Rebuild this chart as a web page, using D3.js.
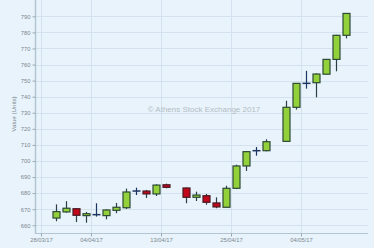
<!DOCTYPE html>
<html>
<head>
<meta charset="utf-8">
<script src="https://cdn.jsdelivr.net/npm/d3@7"></script>
<style>
  body { margin: 0; background: #e8f3fb; }
  svg { display: block; font-family: 'Liberation Sans', Arial, sans-serif; }
</style>
</head>
<body>
<script>
// daily candles (dd/mm/yy)
const dates = ['29/03/17', '30/03/17', '31/03/17', '03/04/17', '04/04/17', '05/04/17', '06/04/17',
  '07/04/17', '10/04/17', '11/04/17', '12/04/17', '13/04/17', '18/04/17', '19/04/17', '20/04/17',
  '21/04/17', '24/04/17', '25/04/17', '26/04/17', '27/04/17', '28/04/17', '02/05/17', '03/05/17',
  '04/05/17', '05/05/17', '08/05/17', '09/05/17', '10/05/17'];
const open = [664.5, 668.3, 670.3, 666, 666.6, 666, 669.3, 670.9, 681.3, 681.3, 679.5, 685.2, 683.2, 677.4,
  678.4, 673.9, 671.2, 683, 696.9, 706.4, 706.4, 712.2, 733.4, 748.3, 748.7, 754, 763.2, 778.2];
const high = [673, 675, 670.6, 668.3, 673.7, 670, 673.9, 682.8, 683.4, 682, 685.5, 685.9, 683.5, 680.9,
  679.5, 677.4, 684.6, 697.7, 706, 708.7, 713.5, 737.5, 748.5, 756.1, 754.5, 763.5, 778.5, 792];
const low = [662.5, 667.8, 662, 661.6, 665.4, 663.7, 667.5, 670.1, 678.8, 677, 678.2, 683, 673.7, 675.1,
  672.8, 670.6, 671, 682.5, 693.8, 703.3, 706, 712, 732, 745, 739.6, 753.8, 755.8, 776.3];
const close = [668.5, 670.6, 666.2, 667.2, 666.6, 669.5, 671.2, 680.7, 681.3, 679.5, 685, 683.6, 677.4, 678.8,
  674.3, 671.4, 683, 696.9, 705.8, 706.4, 712, 733.4, 748.3, 748.3, 754.1, 763.2, 778.2, 791.8];

const xTicks = ['28/03/17', '04/04/17', '13/04/17', '25/04/17', '04/05/17'];
const yTicks = [660, 670, 680, 690, 700, 710, 720, 730, 740, 750, 760, 770, 780, 790];

// trading calendar used by the axis: weekdays, Good Friday left out
const closedDays = ['14/04/17'];

const width = 374;
const height = 248;
const plotTop = 0;
const parse = d3.timeParse('%d/%m/%y');
const fmt = d3.timeFormat('%d/%m/%y');

let slots = d3.timeDay.range(parse('28/03/17'), parse('13/05/17'))
  .filter((d) => d.getDay() > 0 && d.getDay() < 6 && !closedDays.includes(fmt(d)))
  .map(fmt);
const slot = (s) => slots.indexOf(s);

let data = dates.map((d, i) => ({ date: d, o: open[i], h: high[i], l: low[i], c: close[i] }));

let x = d3.scaleLinear().domain([-0.6, 32.7]).range([35, 368]);
let y = d3.scaleLinear().domain([655, 795]).range([233.3, 8.3]);

let svg = d3.select('body').append('svg')
  .attr('width', width)
  .attr('height', height);

svg.append('rect')
  .attr('width', width)
  .attr('height', height)
  .attr('fill', '#e8f3fb');

// grid
svg.append('g')
  .selectAll('line')
  .data(yTicks)
  .enter()
  .append('line')
  .attr('x1', x.range()[0])
  .attr('x2', x.range()[1])
  .attr('y1', (d) => Math.round(y(d)) + 0.5)
  .attr('y2', (d) => Math.round(y(d)) + 0.5)
  .attr('stroke', '#d3e2ee');

svg.append('g')
  .selectAll('line')
  .data(xTicks)
  .enter()
  .append('line')
  .attr('x1', (d) => Math.round(x(slot(d))) + 0.5)
  .attr('x2', (d) => Math.round(x(slot(d))) + 0.5)
  .attr('y1', plotTop)
  .attr('y2', y.range()[0])
  .attr('stroke', '#d3e2ee');

// axes
let yAxis = d3.axisLeft(y).tickValues(yTicks).tickSize(3).tickPadding(2);
let gy = svg.append('g')
  .attr('transform', 'translate(' + (x.range()[0] + 0.5) + ',0)')
  .call(yAxis);
gy.select('.domain').attr('d', 'M0,' + plotTop + 'V' + y.range()[0]).attr('stroke', '#b3c4d2').attr('stroke-width', 1.5);

let gx = svg.append('g')
  .attr('transform', 'translate(0,' + (Math.round(y.range()[0]) + 0.5) + ')')
  .call(d3.axisBottom(x).tickValues(xTicks.map(slot)).tickFormat((d) => slots[d]).tickSize(3).tickPadding(1));
gx.select('.domain').attr('d', 'M' + x.range()[0] + ',0H' + x.range()[1]).attr('stroke', '#b3c4d2');

svg.selectAll('.tick line').attr('stroke', '#9aa8b4');
svg.selectAll('.tick text')
  .attr('fill', '#7d8790')
  .style('font-size', '5.8px');

svg.append('text')
  .attr('transform', 'translate(16,' + 114 + ') rotate(-90)')
  .attr('text-anchor', 'middle')
  .attr('fill', '#7d8790')
  .style('font-size', '6.2px')
  .text('Value (Units)');

svg.append('text')
  .attr('x', 204)
  .attr('y', 112)
  .attr('text-anchor', 'middle')
  .attr('fill', '#b3bcc5')
  .style('font-size', '8px')
  .text('\u00a9 Athens Stock Exchange 2017');

// candles
const bw = 7;
let cells = svg.append('g')
  .selectAll('.candle')
  .data(data)
  .enter()
  .append('g')
  .attr('class', 'candle')
  .attr('transform', (d) => 'translate(' + (Math.round(x(slot(d.date) + 0.5)) + 0.5) + ',0)');

cells.append('line')
  .attr('y1', (d) => y(d.h))
  .attr('y2', (d) => y(d.l))
  .attr('stroke', (d) => d.c === d.o ? '#1d3561' : '#2c3f45')
  .attr('stroke-width', 1.2);

cells.filter((d) => d.c === d.o)
  .append('line')
  .attr('x1', -bw / 2 - 0.5)
  .attr('x2', bw / 2 + 0.5)
  .attr('y1', (d) => y(d.c))
  .attr('y2', (d) => y(d.c))
  .attr('stroke', '#1d3561')
  .attr('stroke-width', 1.5);

cells.filter((d) => d.c !== d.o)
  .append('rect')
  .attr('x', -bw / 2)
  .attr('width', bw)
  .attr('y', (d) => y(Math.max(d.o, d.c)))
  .attr('height', (d) => Math.max(1, Math.abs(y(d.o) - y(d.c))))
  .attr('fill', (d) => d.c > d.o ? '#93d13a' : '#c2071a')
  .attr('stroke', (d) => d.c > d.o ? '#2d4a34' : '#4a1a24')
  .attr('stroke-width', 1.2);
</script>
</body>
</html>
